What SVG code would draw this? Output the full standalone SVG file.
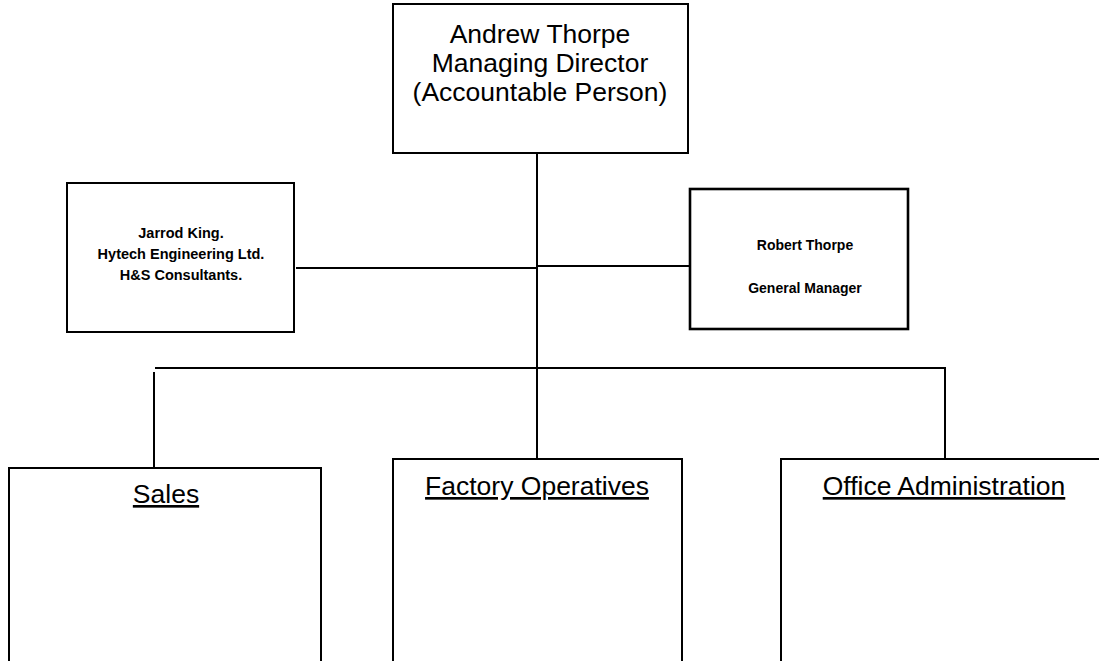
<svg xmlns="http://www.w3.org/2000/svg" width="1099" height="661" viewBox="0 0 1099 661">
<style>
.box{fill:#fff;stroke:#000;stroke-width:2}
.thick{stroke-width:2.6}
.big{font-family:"Liberation Sans",Arial,sans-serif;font-size:26.5px;fill:#000;text-anchor:middle}
.small{font-family:"Liberation Sans",Arial,sans-serif;font-size:14px;font-weight:bold;fill:#000;text-anchor:middle}
.ul{text-decoration:underline}
.conn line{stroke:#000;stroke-width:2;fill:none}
</style>
<rect width="1099" height="661" fill="#fff"/>
<g id="connectors" class="conn">
<line x1="537" y1="153" x2="537" y2="459"/>
<line x1="296" y1="268" x2="537" y2="268"/>
<line x1="537" y1="266" x2="690" y2="266"/>
<line x1="155" y1="368" x2="945" y2="368"/>
<line x1="154" y1="372" x2="154" y2="468"/>
<line x1="945" y1="367" x2="945" y2="459"/>
</g>
<g id="md">
<rect class="box" x="393" y="4" width="295" height="149"/>
<text class="big" x="540" y="43">Andrew Thorpe</text>
<text class="big" x="540" y="72">Managing Director</text>
<text class="big" x="540" y="101">(Accountable Person)</text>
</g>
<g id="consultant">
<rect class="box" x="67" y="183" width="227" height="149"/>
<text class="small" x="181" y="238" style="font-size:14.5px">Jarrod King.</text>
<text class="small" x="181" y="259" style="font-size:14.5px">Hytech Engineering Ltd.</text>
<text class="small" x="181" y="280" style="font-size:14.5px">H&amp;S Consultants.</text>
</g>
<g id="gm">
<rect class="box thick" x="690" y="189" width="218" height="140"/>
<text class="small" x="805" y="250">Robert Thorpe</text>
<text class="small" x="805" y="293">General Manager</text>
</g>
<g id="sales">
<rect class="box" x="9" y="468" width="312" height="210"/>
<text class="big ul" x="166" y="503">Sales</text>
</g>
<g id="factory">
<rect class="box" x="393" y="459" width="289" height="220"/>
<text class="big ul" x="537" y="495">Factory Operatives</text>
</g>
<g id="office">
<rect class="box" x="781" y="459" width="330" height="220"/>
<text class="big ul" x="944" y="495">Office Administration</text>
</g>
</svg>
